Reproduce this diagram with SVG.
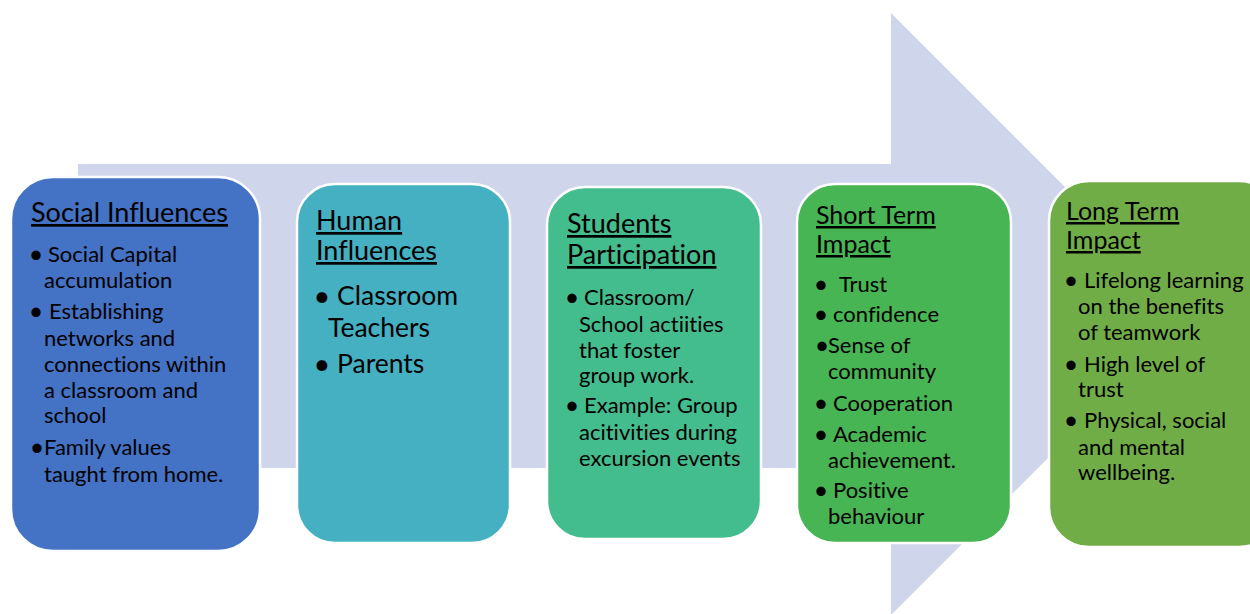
<svg xmlns="http://www.w3.org/2000/svg" width="1250" height="614" viewBox="0 0 1250 614">
<style>
.box{stroke:#ffffff;stroke-width:2.5}
text{font-family:Lato,"Open Sans","Liberation Sans",sans-serif;fill:#000;font-variant-ligatures:none;font-feature-settings:"liga" 0}
.t{font-size:27px;text-decoration:underline}
.t2{font-size:25px;text-decoration:underline}
.b{font-size:22px}
.b2{font-size:26.5px}
.d{text-anchor:middle;font-size:25px}
.d2{text-anchor:middle;font-size:29px}
</style>
<rect width="1250" height="614" fill="#ffffff"/>
<g id="arrow">
<polygon points="78,164 891,164 891,13 1192,314 891,615 891,468 78,468" fill="#CFD5EA"/>
</g>
<g id="connectors"></g>
<g id="social">
<rect class="box" x="11" y="177" width="249" height="374" rx="42" fill="#4472C4"/>
<text class="t" x="31" y="222">Social Influences</text>
<text class="d" x="36" y="263">•</text><text class="b" x="48" y="262">Social Capital</text>
<text class="b" x="44" y="288">accumulation</text>
<text class="d" x="36" y="320">•</text><text class="b" x="49" y="319">Establishing</text>
<text class="b" x="44" y="346">networks and</text>
<text class="b" x="44" y="372">connections within</text>
<text class="b" x="44" y="398">a classroom and</text>
<text class="b" x="44" y="423">school</text>
<text class="d" x="37" y="456">•</text><text class="b" x="44" y="455">Family values</text>
<text class="b" x="44" y="482">taught from home.</text>
</g>
<g id="human">
<rect class="box" x="297" y="184" width="213" height="359" rx="38" fill="#45B0C2"/>
<text class="t"><tspan x="316" y="230">Human</tspan><tspan x="316" y="260">Influences</tspan></text>
<text class="d2" x="322" y="306">•</text><text class="b2" x="337" y="305">Classroom</text>
<text class="b2" x="328" y="337">Teachers</text>
<text class="d2" x="322" y="374">•</text><text class="b2" x="337" y="373">Parents</text>
</g>
<g id="students">
<rect class="box" x="547" y="187" width="214" height="352" rx="38" fill="#44BD8E"/>
<text class="t"><tspan x="567" y="233">Students</tspan><tspan x="567" y="264">Participation</tspan></text>
<text class="d" x="572" y="306">•</text><text class="b" x="584" y="305">Classroom/</text>
<text class="b" x="579" y="332">School actiities</text>
<text class="b" x="579" y="358">that foster</text>
<text class="b" x="579" y="383">group work.</text>
<text class="d" x="572" y="414">•</text><text class="b" x="584" y="413">Example: Group</text>
<text class="b" x="579" y="440">acitivities during</text>
<text class="b" x="579" y="466">excursion events</text>
</g>
<g id="short">
<rect class="box" x="797" y="184" width="214" height="359" rx="38" fill="#47B553"/>
<text class="t2"><tspan x="816" y="224">Short Term</tspan><tspan x="816" y="253">Impact</tspan></text>
<text class="d" x="821" y="293">•</text><text class="b" x="839" y="292">Trust</text>
<text class="d" x="821" y="323">•</text><text class="b" x="833" y="322">confidence</text>
<text class="d" x="822" y="354">•</text><text class="b" x="828" y="353">Sense of</text>
<text class="b" x="828" y="379">community</text>
<text class="d" x="821" y="412">•</text><text class="b" x="833" y="411">Cooperation</text>
<text class="d" x="821" y="443">•</text><text class="b" x="833" y="442">Academic</text>
<text class="b" x="828" y="468">achievement.</text>
<text class="d" x="821" y="499">•</text><text class="b" x="833" y="498">Positive</text>
<text class="b" x="828" y="524">behaviour</text>
</g>
<g id="long">
<rect class="box" x="1049" y="181" width="230" height="366" rx="40" fill="#70AD47"/>
<text class="t2"><tspan x="1066" y="220">Long Term</tspan><tspan x="1066" y="249">Impact</tspan></text>
<text class="d" x="1071" y="289">•</text><text class="b" x="1084" y="288">Lifelong learning</text>
<text class="b" x="1078" y="314">on the benefits</text>
<text class="b" x="1078" y="340">of teamwork</text>
<text class="d" x="1071" y="373">•</text><text class="b" x="1084" y="372">High level of</text>
<text class="b" x="1078" y="397">trust</text>
<text class="d" x="1071" y="429">•</text><text class="b" x="1084" y="428">Physical, social</text>
<text class="b" x="1078" y="455">and mental</text>
<text class="b" x="1078" y="480">wellbeing.</text>
</g>
</svg>
